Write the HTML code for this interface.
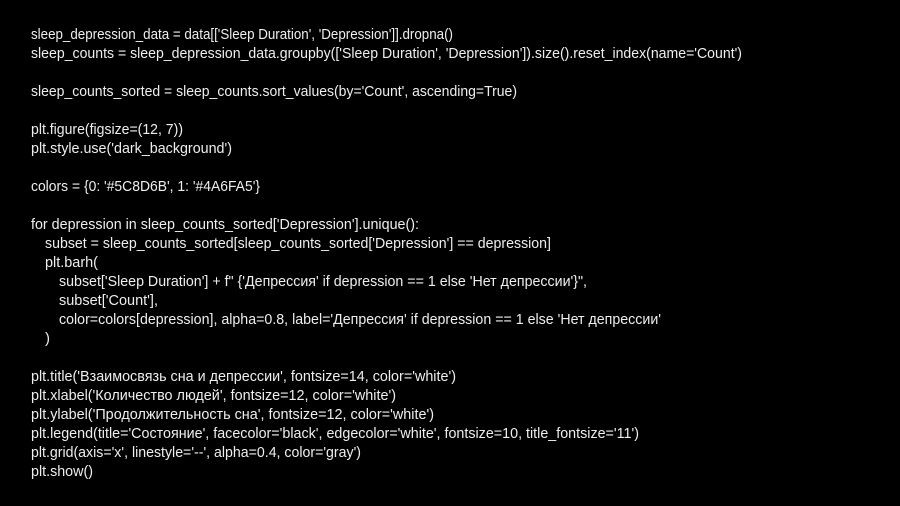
<!DOCTYPE html>
<html lang="en">
<head>
<meta charset="utf-8">
<style>
html,body{margin:0;padding:0;background:#000;width:900px;height:506px;overflow:hidden}
svg{display:block}
text{font-family:"Liberation Sans","Noto Sans CJK SC",sans-serif;font-size:14.5px;fill:#eeeeee;white-space:pre}
</style>
</head>
<body>
<svg width="900" height="506" viewBox="0 0 900 506" xmlns="http://www.w3.org/2000/svg">
<rect width="900" height="506" fill="#000"/>
<text x="31" y="39" textLength="422" lengthAdjust="spacingAndGlyphs">sleep_depression_data = data[['Sleep Duration', 'Depression']].dropna()</text>
<text x="31" y="58" textLength="711" lengthAdjust="spacingAndGlyphs">sleep_counts = sleep_depression_data.groupby(['Sleep Duration', 'Depression']).size().reset_index(name='Count')</text>
<text x="31" y="96" textLength="486" lengthAdjust="spacingAndGlyphs">sleep_counts_sorted = sleep_counts.sort_values(by='Count', ascending=True)</text>
<text x="31" y="134" textLength="152" lengthAdjust="spacingAndGlyphs">plt.figure(figsize=(12, 7))</text>
<text x="31" y="153" textLength="201" lengthAdjust="spacingAndGlyphs">plt.style.use('dark_background')</text>
<text x="31" y="191" textLength="229" lengthAdjust="spacingAndGlyphs">colors = {0: '#5C8D6B', 1: '#4A6FA5'}</text>
<text x="31" y="229" textLength="388" lengthAdjust="spacingAndGlyphs">for depression in sleep_counts_sorted['Depression'].unique():</text>
<text x="45" y="248" textLength="506" lengthAdjust="spacingAndGlyphs">subset = sleep_counts_sorted[sleep_counts_sorted['Depression'] == depression]</text>
<text x="45" y="267" textLength="53" lengthAdjust="spacingAndGlyphs">plt.barh(</text>
<text x="59" y="286" textLength="528" lengthAdjust="spacingAndGlyphs">subset['Sleep Duration'] + f" {'Депрессия' if depression == 1 else 'Нет депрессии'}",</text>
<text x="59" y="305" textLength="99" lengthAdjust="spacingAndGlyphs">subset['Count'],</text>
<text x="59" y="324" textLength="602" lengthAdjust="spacingAndGlyphs">color=colors[depression], alpha=0.8, label='Депрессия' if depression == 1 else 'Нет депрессии'</text>
<text x="45" y="343" textLength="5" lengthAdjust="spacingAndGlyphs">)</text>
<text x="31" y="381" textLength="425" lengthAdjust="spacingAndGlyphs">plt.title('Взаимосвязь сна и депрессии', fontsize=14, color='white')</text>
<text x="31" y="400" textLength="365" lengthAdjust="spacingAndGlyphs">plt.xlabel('Количество людей', fontsize=12, color='white')</text>
<text x="31" y="419" textLength="403" lengthAdjust="spacingAndGlyphs">plt.ylabel('Продолжительность сна', fontsize=12, color='white')</text>
<text x="31" y="438" textLength="608" lengthAdjust="spacingAndGlyphs">plt.legend(title='Состояние', facecolor='black', edgecolor='white', fontsize=10, title_fontsize='11')</text>
<text x="31" y="457" textLength="330" lengthAdjust="spacingAndGlyphs">plt.grid(axis='x', linestyle='--', alpha=0.4, color='gray')</text>
<text x="31" y="476" textLength="62" lengthAdjust="spacingAndGlyphs">plt.show()</text>
</svg>
</body>
</html>
